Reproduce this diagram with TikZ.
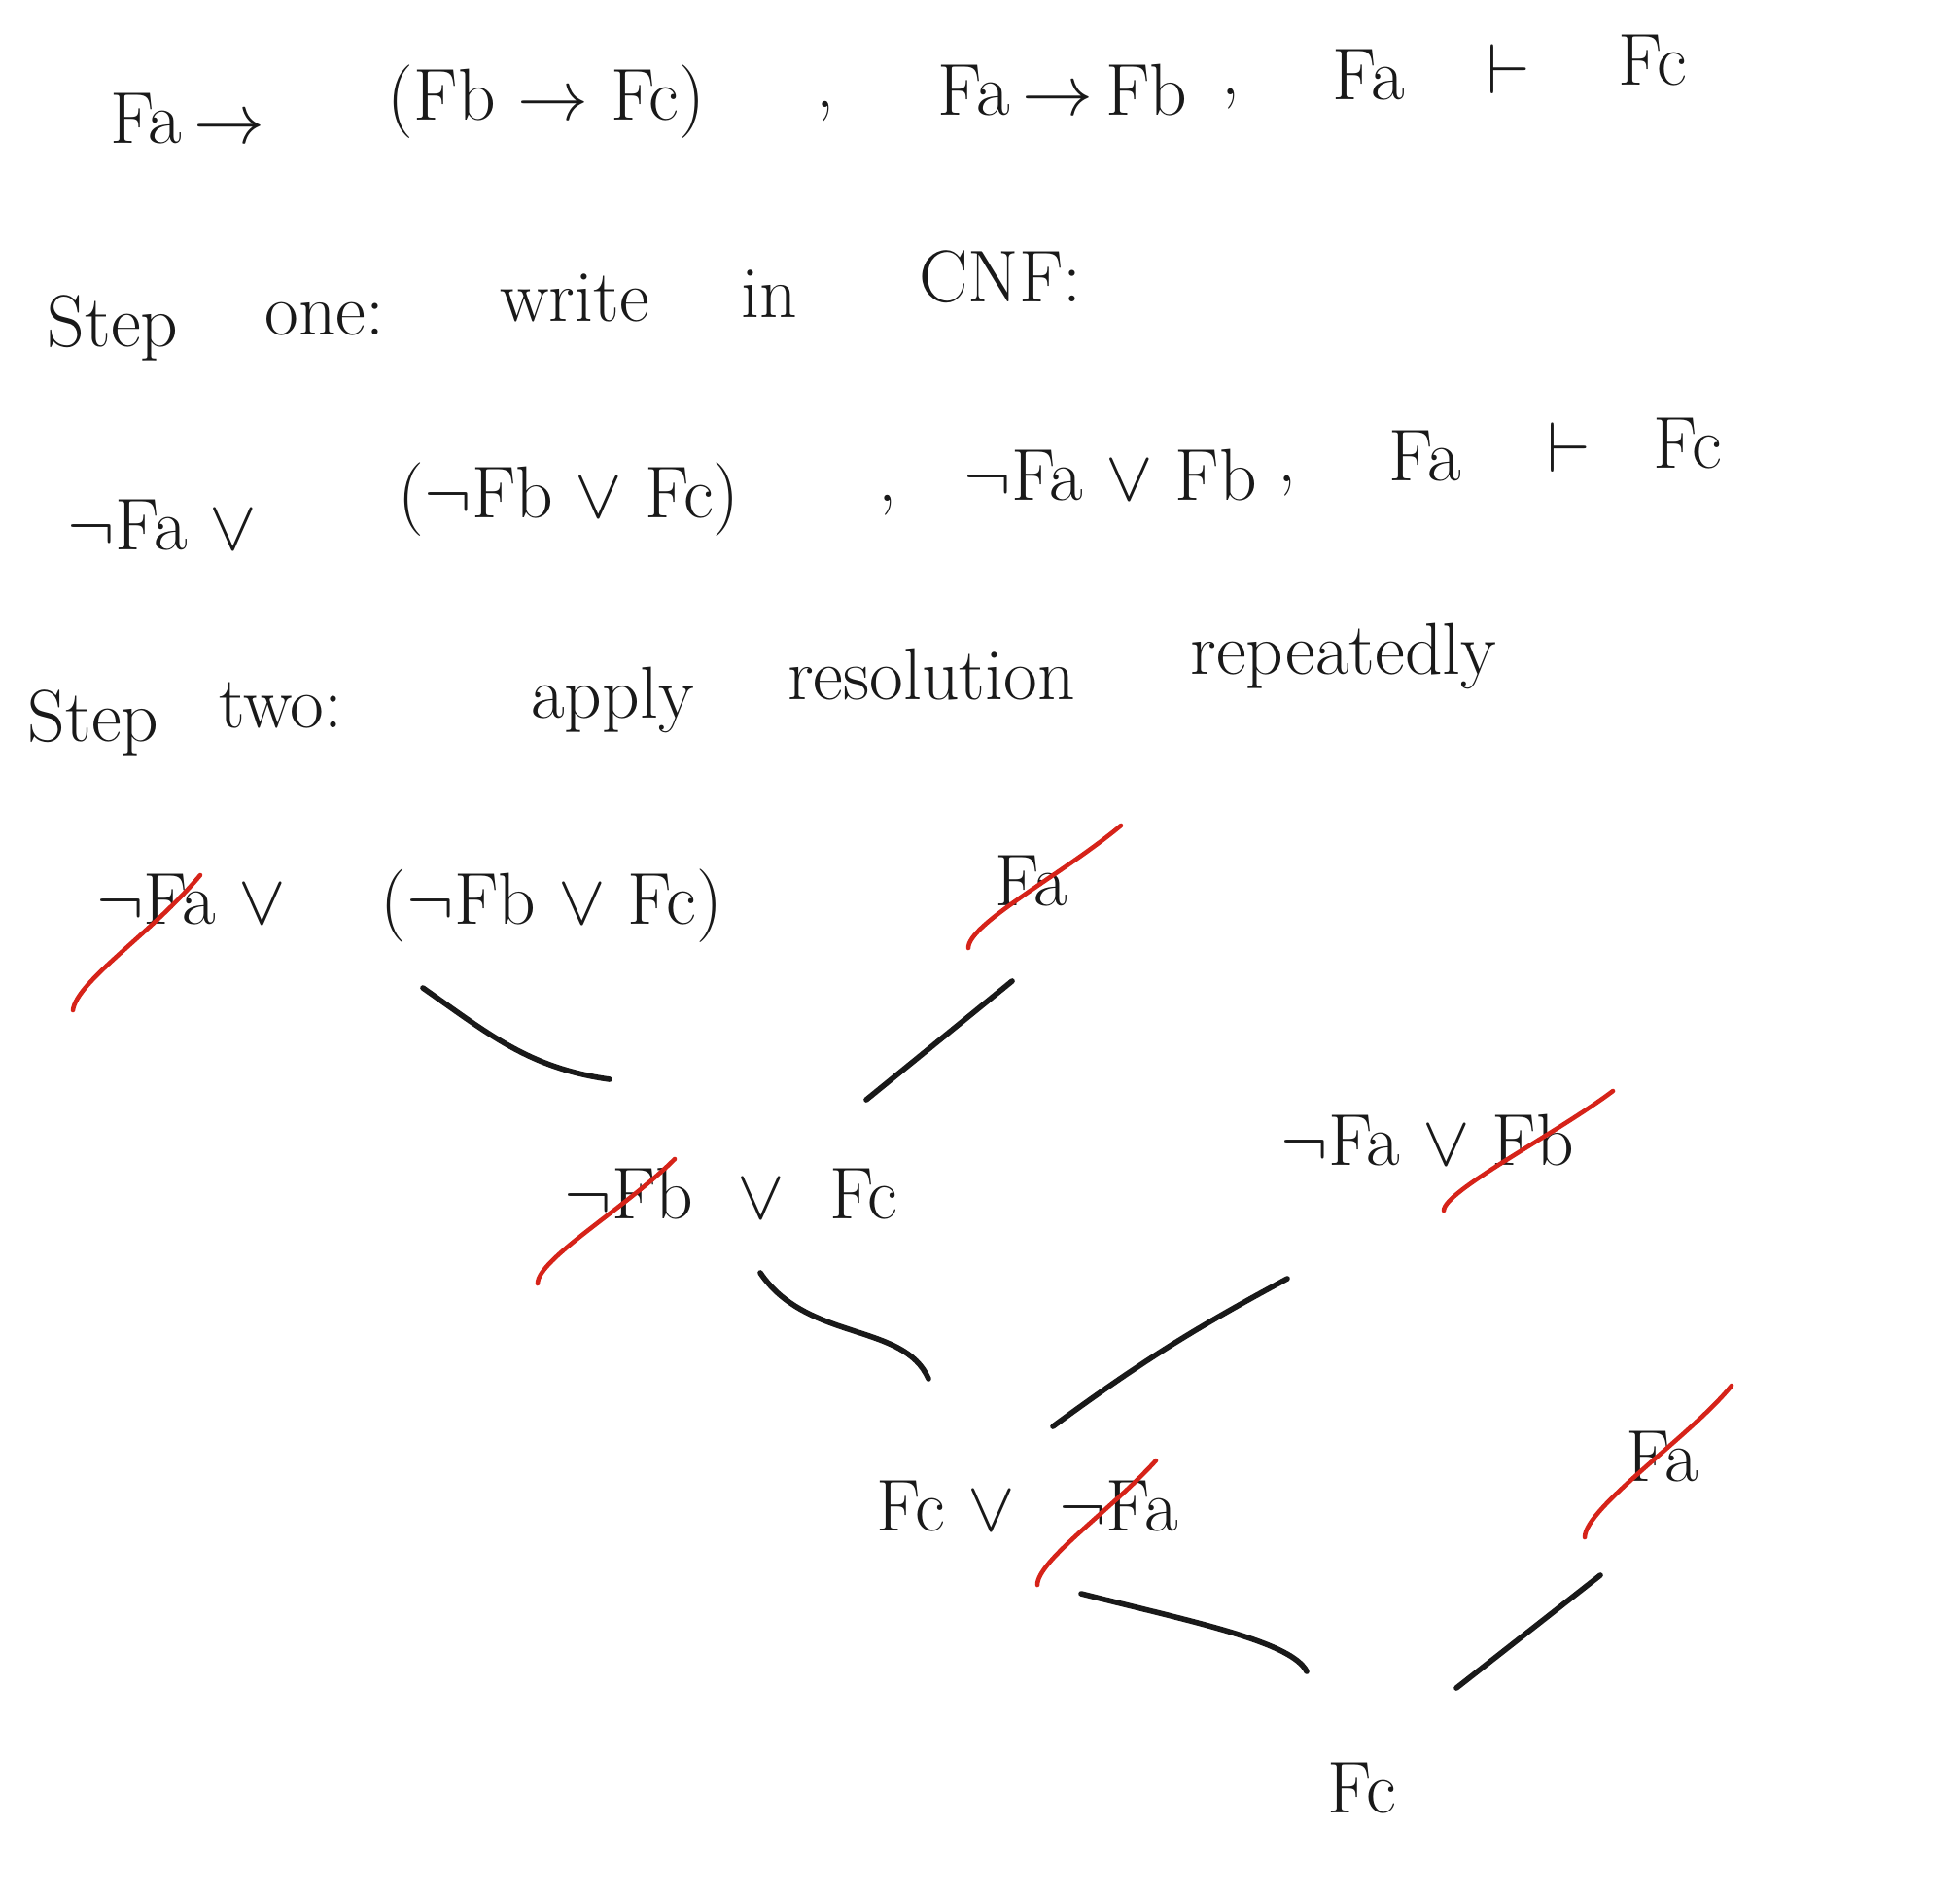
\documentclass[tikz,border=0pt]{standalone}
\usepackage{amsmath, amssymb}
\usepackage{tikz}
\definecolor{inkBlack}{RGB}{25, 25, 25}
\definecolor{inkRed}{RGB}{214, 35, 25}

\begin{document}
\begin{tikzpicture}[
    txt/.style={inner sep=1pt, text=inkBlack, font=\fontsize{21.5}{26}\selectfont},
    link/.style={inkBlack, line width=1.6pt, line cap=round},
    strike/.style={inkRed, line width=1.3pt, line cap=round}]
    \useasboundingbox (0,0) rectangle (20.16,-19.52);

    \node[txt] (lineAa) at (1.93,-1.22) {Fa\,$\to$};
    \node[txt] (lineAb) at (5.62,-1.05) {(Fb $\to$ Fc)};
    \node[txt] (lineAc) at (8.49,-1.15) {,};
    \node[txt] (lineAd) at (10.93,-0.93) {Fa\,$\to$\,Fb};
    \node[txt] (lineAe) at (12.66,-1.02) {,};
    \node[txt] (lineAf) at (14.08,-0.77) {Fa};
    \node[txt] (lineAg) at (15.52,-0.71) {$\vdash$};
    \node[txt] (lineAh) at (17.0,-0.62) {Fc};

    \node[txt] (stepOa) at (1.16,-3.37) {Step};
    \node[txt] (stepOb) at (3.34,-3.28) {one:};
    \node[txt] (stepOc) at (5.91,-3.06) {write};
    \node[txt] (stepOd) at (7.91,-3.02) {in};
    \node[txt] (stepOe) at (10.29,-2.85) {CNF:};

    \node[txt] (lineBa) at (1.67,-5.4) {$\neg$Fa $\lor$};
    \node[txt] (lineBb) at (5.85,-5.14) {($\neg$Fb $\lor$ Fc)};
    \node[txt] (lineBc) at (9.13,-5.2) {,};
    \node[txt] (lineBd) at (11.42,-4.89) {$\neg$Fa $\lor$ Fb};
    \node[txt] (lineBe) at (13.24,-5.0) {,};
    \node[txt] (lineBf) at (14.66,-4.69) {Fa};
    \node[txt] (lineBg) at (16.14,-4.6) {$\vdash$};
    \node[txt] (lineBh) at (17.36,-4.56) {Fc};

    \node[txt] (stepTa) at (0.96,-7.43) {Step};
    \node[txt] (stepTb) at (2.89,-7.26) {two:};
    \node[txt] (stepTc) at (6.3,-7.2) {apply};
    \node[txt] (stepTd) at (9.58,-6.94) {resolution};
    \node[txt] (stepTe) at (13.82,-6.75) {repeatedly};

    \node[txt] (clauseA) at (4.21,-9.32) {$\neg$Fa $\lor$ \quad($\neg$Fb $\lor$ Fc)};
    \node[txt] (clauseB) at (10.61,-9.06) {Fa};
    \node[txt] (clauseC) at (7.52,-12.28) {$\neg$Fb \ $\lor$ \ Fc};
    \node[txt] (clauseD) at (14.68,-11.73) {$\neg$Fa $\lor$ Fb};
    \node[txt] (clauseE) at (10.57,-15.49) {Fc $\lor$ \ $\neg$Fa};
    \node[txt] (clauseF) at (17.1,-14.98) {Fa};
    \node[txt] (clauseG) at (14.01,-18.39) {Fc};

    \coordinate (linkAs) at (4.35,-10.16);
    \coordinate (linkAt) at (6.27,-11.10);
    \coordinate (linkBs) at (8.91,-11.31);
    \coordinate (linkBt) at (10.41,-10.09);
    \coordinate (linkCs) at (7.82,-13.09);
    \coordinate (linkCt) at (9.55,-14.18);
    \coordinate (linkDs) at (10.83,-14.67);
    \coordinate (linkDt) at (13.24,-13.15);
    \coordinate (linkEs) at (11.12,-16.39);
    \coordinate (linkEt) at (13.44,-17.19);
    \coordinate (linkFs) at (14.98,-17.36);
    \coordinate (linkFt) at (16.46,-16.2);

    \draw[link] (linkAs) to[out=-35, in=172] (linkAt);
    \draw[link] (linkBs) -- (linkBt);
    \draw[link] (linkCs) .. controls (8.3,-13.8) and (9.3,-13.6) .. (linkCt);
    \draw[link] (linkDs) to[bend left=4] (linkDt);
    \draw[link] (linkEs) .. controls +(1.2,-0.3) and +(-0.15,0.3) .. (linkEt);
    \draw[link] (linkFs) -- (linkFt);

    \draw[strike] (0.75,-10.39) .. controls +(0.04,0.3) and +(-0.5,-0.6) .. (2.06,-9.0);
    \draw[strike] (9.96,-9.75) .. controls +(0.0,0.25) and +(-0.6,-0.5) .. (11.53,-8.49);
    \draw[strike] (5.53,-13.2) .. controls +(0.0,0.25) and +(-0.5,-0.5) .. (6.94,-11.92);
    \draw[strike] (14.85,-12.45) .. controls +(0.0,0.2) and +(-0.6,-0.45) .. (16.59,-11.22);
    \draw[strike] (10.67,-16.3) .. controls +(0.0,0.25) and +(-0.45,-0.5) .. (11.89,-15.02);
    \draw[strike] (16.3,-15.81) .. controls +(0.0,0.3) and +(-0.4,-0.5) .. (17.81,-14.25);
\end{tikzpicture}
\end{document}
